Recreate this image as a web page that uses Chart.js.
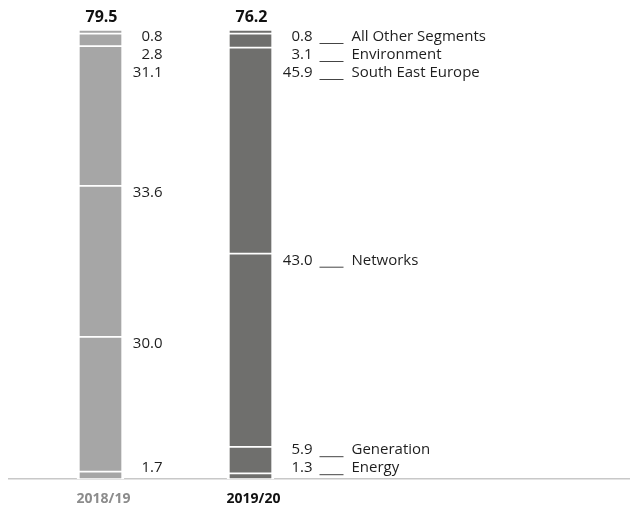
<!DOCTYPE html>
<html>
<head>
<meta charset="utf-8">
<script src="https://cdn.jsdelivr.net/npm/chart.js@4"></script>
<style>
  html, body { margin: 0; padding: 0; background: #fff; }
  #wrap { width: 630px; height: 508px; }
</style>
</head>
<body>
<div id="wrap"><canvas id="graficoSegmentos"></canvas></div>
<script>
// values (shares in %, totals on top of each bar)
const years = ['2018/19', '2019/20'];
const segments = ['Energy', 'Generation', 'Networks', 'South East Europe', 'Environment', 'All Other Segments'];
const share2018 = [1.7, 30.0, 33.6, 31.1, 2.8, 0.8];
const share2019 = [1.3, 5.9, 43.0, 45.9, 3.1, 0.8];
const totals = [79.5, 76.2];

const barColors = ['#a6a6a6', '#6f6f6d'];
const yearColors = ['#8c8c8c', '#111111'];
const FONT = '"Open Sans", "Noto Sans", sans-serif';

// labels beside each bar + legend names for the last bar
const segmentLabels = {
  id: 'segmentLabels',
  beforeDatasetsDraw(chart) {
    const ctx = chart.ctx;
    const area = chart.chartArea;
    ctx.save();
    ctx.strokeStyle = '#c8c8c8';
    ctx.lineWidth = 1.5;
    ctx.beginPath();
    ctx.moveTo(8, area.bottom - 0.5);
    ctx.lineTo(630, area.bottom - 0.5);
    ctx.stroke();
    ctx.restore();
  },
  afterDraw(chart) {
    const ctx = chart.ctx;
    const area = chart.chartArea;
    const n = chart.data.datasets.length;
    ctx.save();
    ctx.textBaseline = 'middle';
    years.forEach((year, i) => {
      // top to bottom
      const items = [];
      for (let d = n - 1; d >= 0; d--) {
        const el = chart.getDatasetMeta(d).data[i];
        items.push({ d, x: el.x, y: el.y + 7, value: chart.data.datasets[d].data[i] });
      }
      for (let k = 1; k < items.length; k++) {
        items[k].y = Math.max(items[k].y, items[k - 1].y + 18);
      }
      items[items.length - 1].y = Math.min(items[items.length - 1].y, area.bottom - 11);
      for (let k = items.length - 2; k >= 0; k--) {
        items[k].y = Math.min(items[k].y, items[k + 1].y - 18);
      }
      items.forEach(it => {
        ctx.font = '15px ' + FONT;
        ctx.fillStyle = '#1e1e1e';
        ctx.textAlign = 'right';
        ctx.fillText(it.value.toFixed(1), it.x + 62, it.y);
        if (i === years.length - 1) {
          ctx.strokeStyle = '#444';
          ctx.lineWidth = 1;
          ctx.beginPath();
          ctx.moveTo(it.x + 69, it.y + 6.5);
          ctx.lineTo(it.x + 93, it.y + 6.5);
          ctx.stroke();
          ctx.textAlign = 'left';
          ctx.fillText(segments[it.d], it.x + 101, it.y);
        }
      });
      // total on top
      const topEl = chart.getDatasetMeta(n - 1).data[i];
      ctx.font = 'bold 16px ' + FONT;
      ctx.fillStyle = '#111';
      ctx.textAlign = 'center';
      ctx.fillText(totals[i].toFixed(1), topEl.x + 1, area.top - 13);
    });
    ctx.restore();
  }
};

window.onload = function () {
  const ctx = document.getElementById('graficoSegmentos').getContext('2d');
  new Chart(ctx, {
    type: 'bar',
    data: {
      labels: years,
      datasets: segments.map((name, k) => ({
        label: name,
        data: [share2018[k], share2019[k]],
        backgroundColor: barColors,
        borderColor: '#ffffff',
        borderWidth: { top: 1.2, bottom: 1.2, left: 3, right: 3 },
        borderSkipped: false,
        barThickness: 47
      }))
    },
    options: {
      responsive: true,
      maintainAspectRatio: false,
      animation: false,
      layout: { padding: { top: 30, left: 25.5, right: 304.5, bottom: -10 } },
      plugins: {
        legend: { display: false },
        tooltip: { enabled: false }
      },
      scales: {
        x: {
          stacked: true,
          grid: { display: false, drawTicks: false },
          border: { display: false },
          ticks: {
            padding: 11,
            labelOffset: 3,
            color: yearColors,
            font: { family: FONT, size: 14, weight: 'bold' }
          }
        },
        y: {
          stacked: true,
          display: false,
          min: 0,
          max: 100
        }
      }
    },
    plugins: [segmentLabels]
  });
};
</script>
</body>
</html>
